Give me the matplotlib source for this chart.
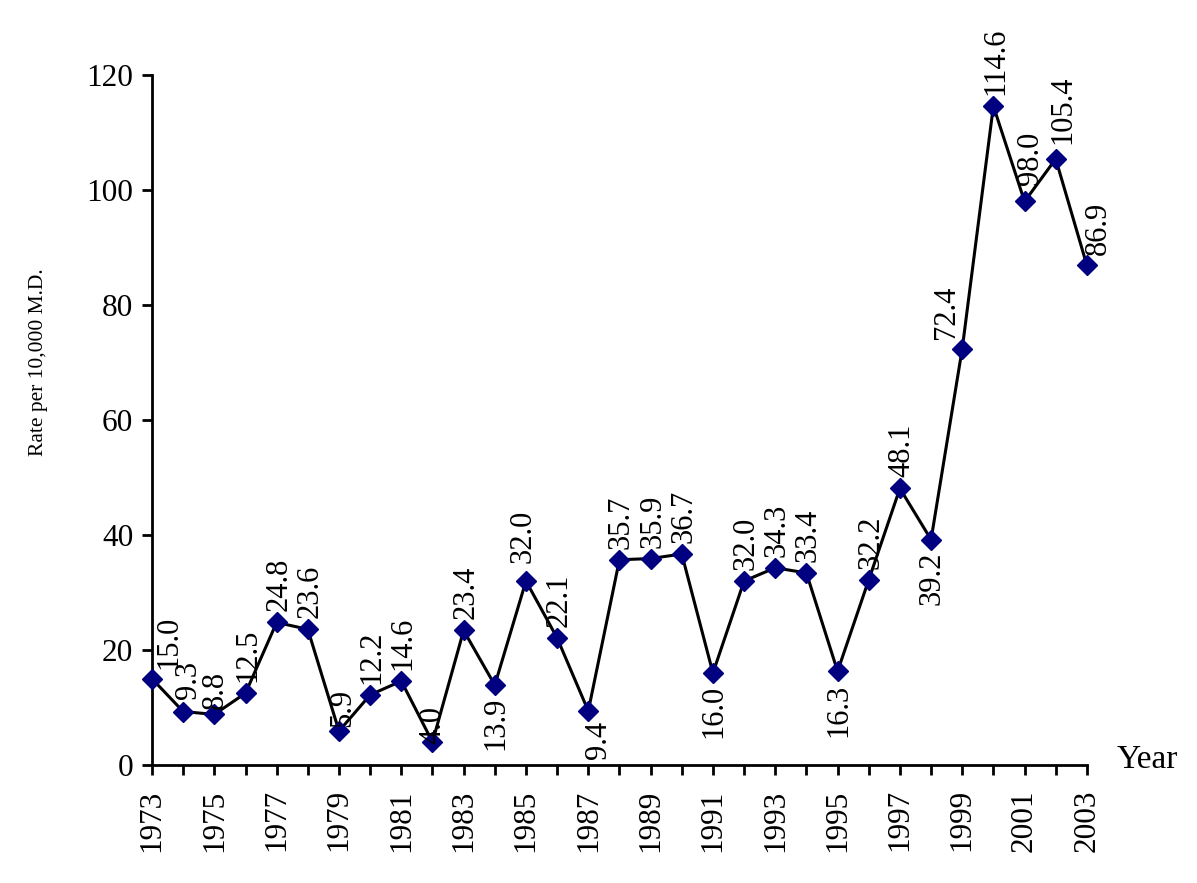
#
#   Rate per 10,000 M.D. by year, 1973 - 2003
#

from matplotlib import pyplot as plt

#   DATA
#
years = list(range(1973, 2004))
rates = [15.0, 9.3, 8.8, 12.5, 24.8, 23.6, 5.9, 12.2, 14.6, 4.0,
         23.4, 13.9, 32.0, 22.1, 9.4, 35.7, 35.9, 36.7, 16.0, 32.0,
         34.3, 33.4, 16.3, 32.2, 48.1, 39.2, 72.4, 114.6, 98.0, 105.4,
         86.9]
tick_labels = [str(y) if (y - 1973) % 2 == 0 else "" for y in years]

#   LABEL PLACEMENT (pixel offsets from the marker, default is above)
#
below = {1984, 1987, 1991, 1995, 1998}
special = {1973: (17, 10), 1974: (5, 13), 1975: (1, 5), 1979: (4, 4),
           1982: (0, -2), 1985: (-3, 18), 1987: (10, -10), 1999: (-16, 10),
           2001: (6, 16), 2002: (7, 15), 2003: (11, 10)}

#   FONTS
#
plt.rcParams['font.family'] = ['Liberation Serif', 'DejaVu Serif']

#   PLOT
#
fig = plt.figure(figsize=(11.97, 8.83), dpi=100)
ax = fig.add_axes([0.127, 0.1336, 0.781, 0.7815])

ax.plot(years, rates, color="black", linewidth=2.2, marker="D",
        markersize=10, markerfacecolor="#000080", markeredgecolor="#000080",
        clip_on=False, zorder=3)

# Value labels, rotated like in the original
px = 0.72  # pixel -> point at 100 dpi
for year, rate in zip(years, rates):
    if year in below:
        dx, dy = special.get(year, (1, -12))
        va = "top"
    else:
        dx, dy = special.get(year, (2, 11))
        va = "bottom"
    ax.annotate("{:.1f}".format(rate), (year, rate),
                xytext=(dx * px, dy * px), textcoords="offset points",
                rotation=90, ha="center", va=va, fontsize=22,
                annotation_clip=False)

# Axes limits and ticks
ax.set_xlim(1973, 2003)
ax.set_ylim(0, 120)
ax.set_xticks(years)
ax.set_xticklabels(tick_labels, rotation=90)
ax.set_yticks(range(0, 121, 20))
ax.tick_params(axis="both", direction="out", length=7.5, width=2,
               labelsize=22.5)
ax.tick_params(axis="x", pad=10)
ax.tick_params(axis="y", pad=6)

# Only the left and bottom spines
for side in ("top", "right"):
    ax.spines[side].set_visible(False)
for side in ("left", "bottom"):
    ax.spines[side].set_linewidth(2)

# Axis titles
ax.text(-0.121, 0.584, "Rate per 10,000 M.D.", transform=ax.transAxes,
        rotation=90, ha="center", va="center", fontsize=15.5)
ax.text(1.032, 0.007, "Year", transform=ax.transAxes,
        ha="left", va="center", fontsize=24)

fig.savefig("out.png", dpi=100)
